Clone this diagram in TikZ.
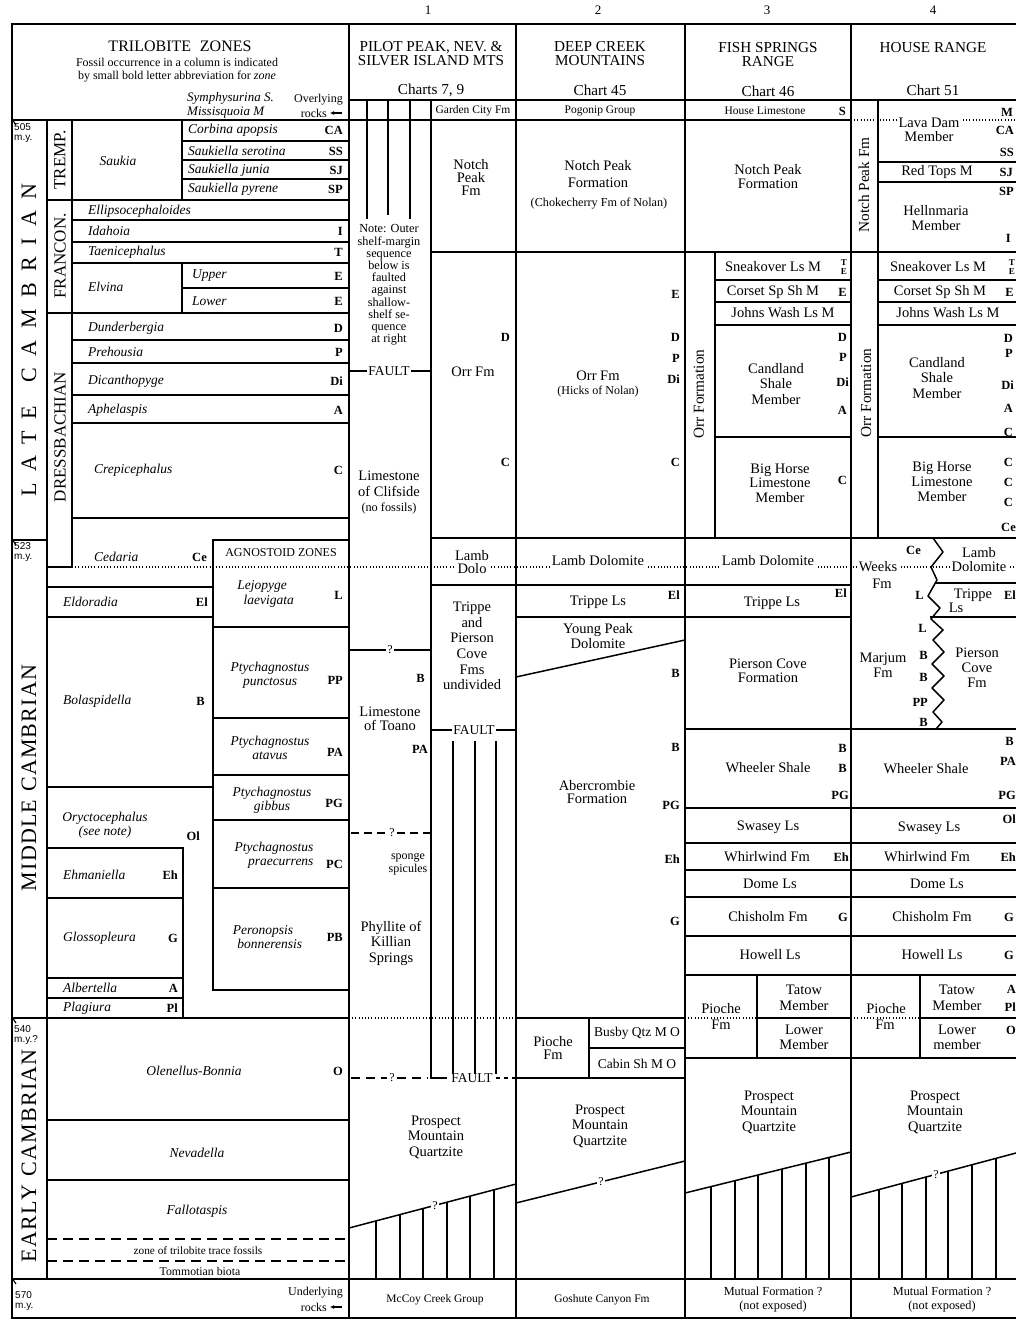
\documentclass[tikz,border=0pt]{standalone}
\usepackage{fontspec}
\setmainfont{Liberation Serif}
\setsansfont{Liberation Sans}
\usetikzlibrary{arrows.meta}
\newcounter{tn}
\newcommand\T[3][]{\stepcounter{tn}\node[tx,#1] (t\arabic{tn}) at (#2) {#3};}
\newcommand\Lt[3][]{\stepcounter{tn}\node[lt,#1] (t\arabic{tn}) at (#2) {#3};}
\newcommand\ks{\kern11.5pt}
\newcommand\kk{\kern1.2pt}
\tikzset{
  ln/.style={line width=1.5pt, line cap=rect},
  hl/.style={line width=1.2pt},
  dotl/.style={line width=1.1pt, dash pattern=on 1pt off 2.2pt},
  dashl/.style={line width=1.5pt, dash pattern=on 10pt off 6pt},
  tx/.style={inner sep=0pt, align=center},
  big/.style={font=\fontsize{14.5}{15.5}\selectfont},
  hd/.style={font=\fontsize{15.2}{14}\selectfont},
  sm/.style={font=\fontsize{11.5}{12.5}\selectfont},
  zn/.style={font=\fontsize{13.5}{14.5}\selectfont\itshape},
  lt/.style={inner sep=0pt, anchor=east, font=\fontsize{12.5}{12}\selectfont\bfseries},
  te/.style={inner sep=0pt, anchor=east, align=center, font=\fontsize{9}{8.5}\selectfont\bfseries},
  my/.style={inner sep=0pt, anchor=west, align=left, font=\fontsize{10}{10.5}\selectfont\sffamily},
  wf/.style={fill=white, inner sep=1.5pt},
  per/.style={rotate=90, font=\fontsize{22}{22}\selectfont},
  stg/.style={rotate=90, font=\fontsize{17}{17}\selectfont},
  rot/.style={rotate=90, font=\fontsize{15.3}{15}\selectfont},
  arr/.style={line width=1.4pt,-{Latex[length=4pt,width=4pt]}},
}
\begin{document}
\begin{tikzpicture}[x=1pt,y=-1pt,font=\fontsize{14.5}{15.5}\selectfont]
\useasboundingbox (0,0) rectangle (1016,1320);
% ---------------- frame and main columns
\draw[ln] (12,24) -- (1016,24);
\draw[ln] (12,1318) -- (1016,1318);
\draw[ln] (12,24) -- (12,1318);
\foreach \x in {349,516,685,851} \draw[ln] (\x,24) -- (\x,1318);
\draw[ln] (349,100) -- (1016,100);
\draw[ln] (12,120) -- (851,120);
\draw[dotl] (851,120) -- (1016,120);
\draw[ln] (12,1279) -- (1016,1279);
% ---------------- period and stage columns
\draw[ln] (47,120) -- (47,1279);
\draw[ln] (12,540) -- (47,540);
\draw[ln] (12,1018) -- (349,1018);
\foreach \y in {120,540,1018,1279} \draw[hl] (12,\y-1) -- (16,\y+5);
\draw[ln] (72,120) -- (72,567);
\draw[ln] (47,567) -- (72,567);
% ---------------- trilobite zones
\draw[ln] (182,120) -- (182,200);
\foreach \y in {141,160,179} \draw[ln] (182,\y) -- (349,\y);
\draw[ln] (47,200) -- (349,200);
\foreach \y in {220,242,263,340,363,395,423,518} \draw[ln] (72,\y) -- (349,\y);
\draw[ln] (182,263) -- (182,313);
\draw[ln] (182,288) -- (349,288);
\draw[ln] (47,313) -- (349,313);
% agnostoid
\draw[ln] (213,540) -- (349,540);
\draw[ln] (213,540) -- (213,990);
\foreach \y in {627,718,775,820,888,990} \draw[ln] (213,\y) -- (349,\y);
\foreach \y in {587,617,787} \draw[ln] (47,\y) -- (213,\y);
\draw[ln] (183,848) -- (183,1018);
\foreach \y in {848,898,978,998} \draw[ln] (47,\y) -- (183,\y);
\draw[ln] (47,1120) -- (349,1120);
\draw[ln] (47,1180) -- (349,1180);
\draw[dashl] (47,1239) -- (349,1239);
\draw[dashl] (47,1261) -- (349,1261);
% ---------------- boundary dotted lines
\draw[dotl] (72,567) -- (1016,567);
\draw[dotl] (349,1018) -- (516,1018);
\draw[dotl] (685,1018) -- (757,1018);
\draw[dotl] (851,1018) -- (920,1018);
% ---------------- column 1
\draw[ln] (431,100) -- (431,1078);
\draw[hl] (367,100) -- (367,219);
\draw[hl] (388,100) -- (388,215);
\draw[hl] (410,100) -- (410,219);
\draw[ln] (431,252) -- (1016,252);
\draw[ln] (431,538) -- (1016,538);
\draw[ln] (431,585) -- (851,585);
\draw[ln] (516,617) -- (851,617);
\foreach \x in {453,475,496} \draw[hl] (\x,741) -- (\x,1074);
% slant col 1 and hatch
\draw[ln] (349,1228) -- (516,1184);
\draw[hl] (376,1221) -- (376,1279);
\draw[hl] (400,1214.6) -- (400,1279);
\draw[hl] (423,1208.5) -- (423,1279);
\draw[hl] (447,1202.2) -- (447,1279);
\draw[hl] (470,1196.1) -- (470,1279);
\draw[hl] (494,1189.8) -- (494,1279);
% ---------------- column 2
\draw[ln] (516,677) -- (685,640);
\draw[ln] (516,1018) -- (685,1018);
\draw[ln] (589,1018) -- (589,1078);
\draw[ln] (589,1048) -- (685,1048);
\draw[ln] (516,1078) -- (685,1078);
\draw[ln] (516,1203) -- (685,1161);
% ---------------- columns 3 and 4
\draw[ln] (715,252) -- (715,538);
\foreach \y in {280,302,325,437} \draw[ln] (715,\y) -- (851,\y);
\draw[ln] (878,100) -- (878,538);
\foreach \y in {162,182,280,302,325,437} \draw[ln] (878,\y) -- (1016,\y);
\draw[ln] (937,583) -- (1016,583);
\draw[ln] (931,617) -- (1016,617);
\foreach \y in {729,808,843,870,897,936,975,1058} \draw[ln] (685,\y) -- (1016,\y);
\draw[ln] (757,975) -- (757,1058);
\draw[ln] (757,1018) -- (851,1018);
\draw[ln] (920,975) -- (920,1058);
\draw[ln] (920,1018) -- (1016,1018);
\draw[ln, line join=round] (933,538) -- (943,552) -- (931,567) -- (937,580) -- (928,596) -- (940,608) -- (931,619) -- (943,630) -- (933,640) -- (944,652) -- (932,664) -- (944,676) -- (932,688) -- (944,700) -- (933,712) -- (942,722) -- (936,729);
\draw[ln] (685,1193) -- (851,1152);
\foreach \x/\y in {711/1186.6,735/1180.7,758/1175,782/1169,806/1163.1,829/1157.4} \draw[hl] (\x,\y) -- (\x,1279);
\draw[ln] (851,1197) -- (1016,1153);
\foreach \x/\y in {879/1189.5,902/1183.4,926/1177,948/1171.1,972/1164.7,996/1158.3} \draw[hl] (\x,\y) -- (\x,1279);

% ================= TEXT: zones column
\T[font=\fontsize{16}{16}\selectfont]{180,46}{TRILOBITE\hspace{0.55em}ZONES}
\T[font=\fontsize{12}{13.5}\selectfont]{177,70}{Fossil occurrence in a column is indicated\\by small bold letter abbreviation for \textit{zone}}
\T[zn,anchor=west,font=\fontsize{13}{14}\selectfont\itshape]{187,98}{Symphysurina S.}
\T[zn,anchor=west,font=\fontsize{13}{14}\selectfont\itshape]{187,113}{Missisquoia M}
\T[font=\fontsize{12}{12}\selectfont,anchor=east]{343,100}{Overlying}
\T[font=\fontsize{12}{12}\selectfont,anchor=east]{327,113}{rocks}
\draw[arr] (t\arabic{tn}.east) ++(15,0) -- ++(-12,0);
\T[my]{14,133}{505\\m.y.}
\T[my]{14,552}{523\\m.y.}
\T[my]{14,1035}{540\\m.y.?}
\T[my]{15,1301}{570\\m.y.}
\T[per]{29,340}{L\ks A\ks T\ks E\kern24pt C\ks A\ks M\ks B\ks R\ks I\ks A\ks N}
\T[per]{29,778}{M\kk I\kk D\kk D\kk L\kk E\kern8pt C\kk A\kk M\kk B\kk R\kk I\kk A\kk N}
\T[per]{29,1156}{E\kk A\kk R\kk L\kk Y\kern8pt C\kk A\kk M\kk B\kk R\kk I\kk A\kk N}
\T[stg]{60,160}{TREMP.}
\T[stg]{60,256}{FRANCON.}
\T[stg]{60,437}{DRESSBACHIAN}
\T[zn]{118,161}{Saukia}
\T[zn,anchor=west]{188,130}{Corbina apopsis}\Lt{343,130}{CA}
\T[zn,anchor=west]{188,151}{Saukiella serotina}\Lt{343,151}{SS}
\T[zn,anchor=west]{188,170}{Saukiella junia}\Lt{343,170}{SJ}
\T[zn,anchor=west]{188,189}{Saukiella pyrene}\Lt{343,189}{SP}
\T[zn,anchor=west]{88,211}{Ellipsocephaloides}
\T[zn,anchor=west]{88,231}{Idahoia}\Lt{343,231}{I}
\T[zn,anchor=west]{88,252}{Taenicephalus}\Lt{343,252}{T}
\T[zn,anchor=west]{88,287}{Elvina}
\T[zn,anchor=west]{192,276}{Upper}\Lt{343,276}{E}
\T[zn,anchor=west]{192,301}{Lower}\Lt{343,301}{E}
\T[zn,anchor=west]{88,328}{Dunderbergia}\Lt{343,328}{D}
\T[zn,anchor=west]{88,352}{Prehousia}\Lt{343,352}{P}
\T[zn,anchor=west]{88,381}{Dicanthopyge}\Lt{343,381}{Di}
\T[zn,anchor=west]{88,410}{Aphelaspis}\Lt{343,410}{A}
\T[zn,anchor=west]{94,470}{Crepicephalus}\Lt{343,470}{C}
\T[zn,anchor=west]{94,557}{Cedaria}\Lt{207,557}{Ce}
\T[font=\fontsize{12}{12}\selectfont]{281,553}{AGNOSTOID ZONES}
\T[zn,anchor=west]{63,602}{Eldoradia}\Lt{208,602}{El}
\T[zn]{262,594}{Lejopyge\\\hspace{1em}laevigata}\Lt{343,595}{L}
\T[zn,anchor=west]{63,701}{Bolaspidella}\Lt{205,701}{B}
\T[zn]{270,675}{Ptychagnostus\\punctosus}\Lt{343,680}{PP}
\T[zn]{270,748}{Ptychagnostus\\atavus}\Lt{343,752}{PA}
\T[zn]{272,800}{Ptychagnostus\\gibbus}\Lt{343,803}{PG}
\T[zn]{105,825}{Oryctocephalus\\(see note)}\Lt{200,836}{Ol}
\T[zn]{274,855}{Ptychagnostus\\\hspace{1em}praecurrens}\Lt{343,864}{PC}
\T[zn,anchor=west]{63,875}{Ehmaniella}\Lt{178,875}{Eh}
\T[zn]{263,937}{Peronopsis\\\hspace{1em}bonnerensis}\Lt{343,937}{PB}
\T[zn,anchor=west]{63,938}{Glossopleura}\Lt{178,938}{G}
\T[zn,anchor=west]{63,988}{Albertella}\Lt{178,988}{A}
\T[zn,anchor=west]{63,1008}{Plagiura}\Lt{178,1008}{Pl}
\T[zn]{194,1071}{Olenellus-Bonnia}\Lt{343,1071}{O}
\T[zn]{197,1153}{Nevadella}
\T[zn]{197,1211}{Fallotaspis}
\T[font=\fontsize{11.3}{11}\selectfont]{198,1251}{zone of trilobite trace fossils}
\T[font=\fontsize{11.8}{11}\selectfont]{200,1271}{Tommotian biota}
\T[font=\fontsize{12}{12}\selectfont,anchor=east]{343,1293}{Underlying}
\T[font=\fontsize{12}{12}\selectfont,anchor=east]{327,1307}{rocks}
\draw[arr] (t\arabic{tn}.east) ++(15,0) -- ++(-12,0);

% ================= column headers
\T[font=\fontsize{13}{13}\selectfont]{428,10}{1}
\T[font=\fontsize{13}{13}\selectfont]{598,10}{2}
\T[font=\fontsize{13}{13}\selectfont]{767,10}{3}
\T[font=\fontsize{13}{13}\selectfont]{933,10}{4}
\T[hd]{431,54}{PILOT PEAK, NEV. \&\\SILVER ISLAND MTS}
\T[hd]{431,90}{Charts 7, 9}
\T[hd]{600,54}{DEEP CREEK\\MOUNTAINS}
\T[hd]{600,90}{Chart 45}
\T[hd]{768,55}{FISH SPRINGS\\RANGE}
\T[hd]{768,91}{Chart 46}
\T[hd]{933,48}{HOUSE RANGE}
\T[hd]{933,90}{Chart 51}

% ================= column 1
\T[sm]{473,111}{Garden City Fm}
\T[big,font=\fontsize{14.5}{13}\selectfont]{471,177}{Notch\\Peak\\Fm}
\T[font=\fontsize{12.3}{12.2}\selectfont]{389,285}{Note: Outer\\shelf-margin\\sequence\\below is\\faulted\\against\\shallow-\\shelf se-\\quence\\at right}
\T[font=\fontsize{13.5}{13}\selectfont]{389,371}{FAULT}
\draw[ln] (349,371) -- ([xshift=-2pt]t\arabic{tn}.west);
\draw[ln] ([xshift=2pt]t\arabic{tn}.east) -- (431,371);
\T{473,372}{Orr Fm}
\Lt{510,337}{D}
\Lt{510,462}{C}
\T{389,484}{Limestone\\of Clifside}
\T[font=\fontsize{12.3}{12}\selectfont]{389,508}{(no fossils)}
\T[wf,font=\fontsize{14.5}{12.5}\selectfont]{472,562}{Lamb\\Dolo}
\T[font=\fontsize{14.5}{15.6}\selectfont]{472,646}{Trippe\\and\\Pierson\\Cove\\Fms\\undivided}
\T[font=\fontsize{12}{12}\selectfont]{390,650}{?}
\draw[ln] (349,650) -- ([xshift=-2pt]t\arabic{tn}.west);
\draw[ln] ([xshift=2pt]t\arabic{tn}.east) -- (431,650);
\Lt{425,678}{B}
\T[font=\fontsize{14.5}{14}\selectfont]{390,719}{Limestone\\of Toano}
\Lt{428,749}{PA}
\T[font=\fontsize{13.5}{13}\selectfont]{474,730}{FAULT}
\draw[ln] (431,730) -- ([xshift=-2pt]t\arabic{tn}.west);
\draw[ln] ([xshift=2pt]t\arabic{tn}.east) -- (516,730);
\T[font=\fontsize{12}{12}\selectfont]{392,833}{?}
\draw[dashl,dash pattern=on 8pt off 5pt] (351,833) -- ([xshift=-2pt]t\arabic{tn}.west);
\draw[dashl,dash pattern=on 8pt off 5pt] ([xshift=2pt]t\arabic{tn}.east) -- (431,833);
\T[font=\fontsize{12}{12.5}\selectfont]{408,864}{sponge\\spicules}
\T{391,943}{Phyllite of\\Killian\\Springs}
\T[font=\fontsize{12}{12}\selectfont]{392,1078}{?}
\draw[dashl,dash pattern=on 9pt off 6pt] (351,1078) -- ([xshift=-2pt]t\arabic{tn}.west);
\draw[dashl,dash pattern=on 9pt off 6pt] ([xshift=2pt]t\arabic{tn}.east) -- (428,1078);
\draw[ln] (431,1078) -- (446,1078);
\T[font=\fontsize{13.5}{13}\selectfont]{472,1078}{FAULT}
\draw[dashl,dash pattern=on 4pt off 4pt] ([xshift=3pt]t\arabic{tn}.east) -- (516,1078);
\T{436,1137}{Prospect\\Mountain\\Quartzite}
\T[wf,font=\fontsize{12}{12}\selectfont,inner sep=1pt]{435,1206}{?}
\T[sm]{435,1300}{McCoy Creek Group}

% ================= column 2
\T[sm]{600,111}{Pogonip Group}
\T[font=\fontsize{14.5}{16.5}\selectfont]{598,174}{Notch Peak\\Formation}
\T[font=\fontsize{12.2}{12}\selectfont]{599,204}{(Chokecherry Fm of Nolan)}
\Lt{680,294}{E}
\Lt{680,337}{D}
\Lt{680,358}{P}
\Lt{680,379}{Di}
\Lt{680,462}{C}
\T{598,376}{Orr Fm}
\T[font=\fontsize{12}{12}\selectfont]{598,392}{(Hicks of Nolan)}
\T[wf]{598,561}{Lamb Dolomite}
\T{598,602}{Trippe Ls}
\Lt{680,595}{El}
\T{598,636}{Young Peak\\Dolomite}
\Lt{680,673}{B}
\Lt{680,747}{B}
\T[font=\fontsize{14.5}{13.5}\selectfont]{597,792}{Abercrombie\\Formation}
\Lt{680,805}{PG}
\Lt{680,859}{Eh}
\Lt{680,921}{G}
\T[font=\fontsize{14.5}{13}\selectfont]{553,1048}{Pioche\\Fm}
\T[font=\fontsize{13.5}{14}\selectfont]{637,1033}{Busby Qtz M O}
\T[font=\fontsize{13.5}{14}\selectfont]{637,1064}{Cabin Sh M O}
\T{600,1126}{Prospect\\Mountain\\Quartzite}
\T[wf,font=\fontsize{12}{12}\selectfont,inner sep=1pt]{601,1182}{?}
\T[sm]{602,1300}{Goshute Canyon Fm}

% ================= column 3
\T[sm]{765,111}{House Limestone}
\Lt{846,111}{S}
\T[font=\fontsize{14.5}{14}\selectfont]{768,177}{Notch Peak\\Formation}
\T[rot]{699,394}{Orr Formation}
\T{773,267}{Sneakover Ls M}
\T[te]{847,267}{T\\E}
\T{773,292}{Corset Sp Sh M}
\Lt{847,292}{E}
\T{783,313}{Johns Wash Ls M}
\T{776,384}{Candland\\Shale\\Member}
\Lt{847,337}{D}
\Lt{847,357}{P}
\Lt{849,382}{Di}
\Lt{847,410}{A}
\T[font=\fontsize{14.5}{14.5}\selectfont]{780,483}{Big Horse\\Limestone\\Member}
\Lt{847,480}{C}
\T[wf]{768,561}{Lamb Dolomite}
\T{772,603}{Trippe Ls}
\Lt{847,593}{El}
\T[font=\fontsize{14.5}{14}\selectfont]{768,671}{Pierson Cove\\Formation}
\T{768,768}{Wheeler Shale}
\Lt{847,748}{B}
\Lt{847,768}{B}
\Lt{849,795}{PG}
\T{768,827}{Swasey Ls}
\T{767,857}{Whirlwind Fm}
\Lt{849,857}{Eh}
\T{770,884}{Dome Ls}
\T{768,917}{Chisholm Fm}
\Lt{848,917}{G}
\T{770,955}{Howell Ls}
\T{721,1009}{Pioche}
\T{721,1025}{Fm}
\T[font=\fontsize{14.5}{16}\selectfont]{804,998}{Tatow\\Member}
\T[font=\fontsize{14.5}{15}\selectfont]{804,1037}{Lower\\Member}
\T{769,1112}{Prospect\\Mountain\\Quartzite}
\T[font=\fontsize{12.3}{14}\selectfont]{773,1300}{Mutual Formation ?\\(not exposed)}

% ================= column 4
\T[rot]{864,185}{Notch Peak Fm}
\T[wf,font=\fontsize{14.5}{14.5}\selectfont]{929,130}{Lava Dam\\Member}
\Lt{1013,112}{M}
\Lt{1014,130}{CA}
\Lt{1014,152}{SS}
\T{937,172}{Red Tops M}
\Lt{1013,172}{SJ}
\Lt{1014,191}{SP}
\T[font=\fontsize{14.5}{15}\selectfont]{936,218}{Hellnmaria\\Member}
\Lt{1011,238}{I}
\T[rot]{866,393}{Orr Formation}
\T{938,267}{Sneakover Ls M}
\T[te]{1015,267}{T\\E}
\T{940,292}{Corset Sp Sh M}
\Lt{1014,292}{E}
\T{948,313}{Johns Wash Ls M}
\T{937,378}{Candland\\Shale\\Member}
\Lt{1013,338}{D}
\Lt{1013,353}{P}
\Lt{1014,385}{Di}
\Lt{1013,408}{A}
\Lt{1013,432}{C}
\T[font=\fontsize{14.5}{15}\selectfont]{942,482}{Big Horse\\Limestone\\Member}
\Lt{1013,462}{C}
\Lt{1013,482}{C}
\Lt{1013,502}{C}
\Lt{1016,527}{Ce}
\Lt{921,550}{Ce}
\T[wf]{878,567}{Weeks}
\T{882,584}{Fm}
\T[wf,font=\fontsize{14.5}{14}\selectfont]{979,560}{Lamb\\Dolomite}
\Lt{924,595}{L}
\T{973,595}{Trippe}
\T{956,608}{Ls}
\Lt{1016,595}{El}
\Lt{927,628}{L}
\T[font=\fontsize{14.5}{15}\selectfont]{883,665}{Marjum\\Fm}
\Lt{928,655}{B}
\Lt{928,677}{B}
\Lt{928,702}{PP}
\Lt{928,722}{B}
\T[font=\fontsize{14.5}{15}\selectfont]{977,668}{Pierson\\Cove\\Fm}
\T{926,769}{Wheeler Shale}
\Lt{1014,741}{B}
\Lt{1016,761}{PA}
\Lt{1016,795}{PG}
\Lt{1016,819}{Ol}
\T{929,828}{Swasey Ls}
\T{927,857}{Whirlwind Fm}
\Lt{1016,857}{Eh}
\T{937,884}{Dome Ls}
\T{932,917}{Chisholm Fm}
\Lt{1014,917}{G}
\T{932,955}{Howell Ls}
\Lt{1014,955}{G}
\T{886,1009}{Pioche}
\T{885,1025}{Fm}
\T[font=\fontsize{14.5}{16}\selectfont]{957,998}{Tatow\\Member}
\Lt{1016,989}{A}
\Lt{1016,1007}{Pl}
\T[font=\fontsize{14.5}{15}\selectfont]{957,1037}{Lower\\member}
\Lt{1016,1030}{O}
\T{935,1112}{Prospect\\Mountain\\Quartzite}
\T[wf,font=\fontsize{12}{12}\selectfont,inner sep=1pt]{936,1175}{?}
\T[font=\fontsize{12.3}{14}\selectfont]{942,1300}{Mutual Formation ?\\(not exposed)}
\end{tikzpicture}
\end{document}
